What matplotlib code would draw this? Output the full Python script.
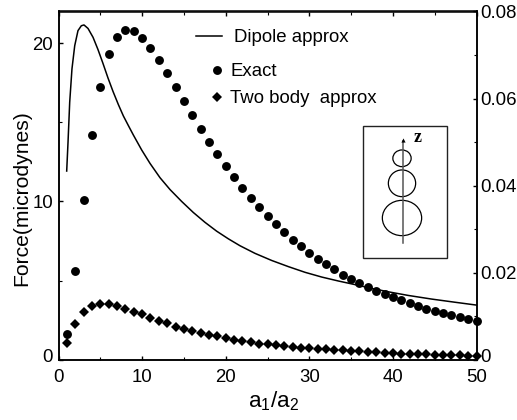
import matplotlib
matplotlib.use('Agg')
import matplotlib.pyplot as plt
from matplotlib.lines import Line2D
from matplotlib.patches import Ellipse, Rectangle
from matplotlib.transforms import Affine2D, ScaledTranslation
import numpy as np

plt.rcParams['font.family'] = ['Liberation Sans', 'DejaVu Sans']
plt.rcParams['mathtext.fontset'] = 'custom'
plt.rcParams['mathtext.rm'] = 'Liberation Sans'
plt.rcParams['mathtext.default'] = 'regular'

dipole_x = [0.98, 1.14, 1.34, 1.61, 1.94, 2.33, 2.73, 3.05, 3.53, 4.13, 4.72, 5.32, 5.92, 6.52,
            7.16, 7.76, 8.35, 8.95, 9.95, 10.95, 12.14, 13.34, 14.73, 16.13, 17.52, 18.92, 20.31,
            21.71, 23.5, 25.5, 27.5, 29.5, 31.5, 33.5, 35.5, 37.5, 39.45, 41.84, 44.64, 47.43, 50]
dipole_y = [11.92, 13.75, 16.27, 18.37, 19.84, 20.79, 21.1, 21.15, 20.93, 20.37, 19.6, 18.72, 17.8, 16.95,
            16.12, 15.4, 14.8, 14.2, 13.25, 12.4, 11.5, 10.75, 10.0, 9.3, 8.68, 8.12, 7.64,
            7.2, 6.72, 6.27, 5.88, 5.52, 5.22, 4.97, 4.74, 4.5, 4.29, 4.06, 3.83, 3.63, 3.45]

ratio = list(range(1, 51))
exact = [1.62, 5.6, 10.1, 14.17, 17.26, 19.32, 20.4, 20.83, 20.74, 20.35,
         19.7, 18.94, 18.1, 17.2, 16.33, 15.45, 14.59, 13.77, 12.97, 12.23,
         11.52, 10.85, 10.21, 9.65, 9.06, 8.56, 8.05, 7.59, 7.17, 6.77,
         6.39, 6.03, 5.72, 5.38, 5.09, 4.84, 4.6, 4.37, 4.14, 3.95,
         3.76, 3.57, 3.39, 3.22, 3.07, 2.92, 2.8, 2.67, 2.57, 2.44]
# two body is read against the right hand axis
two_body = [0.0038, 0.0083, 0.0109, 0.0124, 0.0128, 0.0127, 0.0124, 0.0117, 0.0110, 0.0104,
            0.0096, 0.0089, 0.0084, 0.0076, 0.0071, 0.0065, 0.0061, 0.0056, 0.0054, 0.0049,
            0.0045, 0.0043, 0.0041, 0.0037, 0.0035, 0.0034, 0.0031, 0.0029, 0.0028, 0.0027,
            0.0025, 0.0024, 0.0022, 0.0022, 0.0020, 0.0019, 0.0018, 0.0017, 0.0016, 0.0015,
            0.0014, 0.0013, 0.0012, 0.0012, 0.0011, 0.0011, 0.0011, 0.0010, 0.0009, 0.0009]

x_ticks = [0, 10, 20, 30, 40, 50]
left_ticks = [0, 10, 20]
right_ticks = [0, 0.02, 0.04, 0.06, 0.08]
right_labels = ['0', '0.02', '0.04', '0.06', '0.08']

W, H = 517, 420
fig = plt.figure(figsize=(W / 100, H / 100), dpi=100)
ax = fig.add_axes([58.5 / W, 1 - 359.7 / H, 418 / W, 348.2 / H])
ax2 = ax.twinx()

# image pixel coordinates, y going down, for the hand placed legend and inset
pix = Affine2D().scale(1 / W, -1 / H).translate(0, 1) + fig.transFigure

FS = 13.4
ax.plot(dipole_x, dipole_y, color='black', lw=1.1, zorder=3)
ax.plot(ratio, exact, 'o', color='black', ms=6.4, mew=0, clip_on=False, zorder=4)
ax2.plot(ratio, two_body, 'D', color='black', ms=5.0, mew=0, clip_on=False, zorder=4)

ax.set_xlim(0, 50)
ax.set_ylim(0, 22)
ax2.set_ylim(0, 0.08)

ax.set_xticks(x_ticks)
ax.set_xticks(np.arange(5, 50, 10), minor=True)
ax.set_yticks(left_ticks)
ax.set_yticks([5, 15], minor=True)
ax2.set_yticks(right_ticks)
ax2.set_yticklabels(right_labels)
ax2.set_yticks([0.01, 0.03, 0.05, 0.07], minor=True)

ax.tick_params(axis='x', which='both', direction='in', top=True, labelsize=FS, pad=6.5)
ax.tick_params(axis='y', which='both', direction='in', labelsize=FS, pad=4)
ax2.tick_params(axis='y', which='both', direction='in', labelsize=FS, pad=3)
for a in (ax, ax2):
    a.tick_params(which='major', length=3.2, width=1)
    a.tick_params(which='minor', length=2, width=0.8)
    for s in a.spines.values():
        s.set_linewidth(1.1)

# the zeros sit a little above the axis in the original
up = ScaledTranslation(0, 4 / 100, fig.dpi_scale_trans)
for lab in (ax.get_yticklabels()[0], ax2.get_yticklabels()[0]):
    lab.set_transform(lab.get_transform() + up)

fig.text(273 / W, 1 - 401 / H, '$a_1/a_2$', fontsize=16.2, ha='center', va='center')
fig.text(22 / W, 1 - 198 / H, 'Force(microdynes)', fontsize=15.2, rotation=90, ha='center', va='center')

# legend
fig.add_artist(Line2D([196, 222], [35.7, 35.7], color='black', lw=1.1, transform=pix))
fig.add_artist(Line2D([217.3], [70], marker='o', ms=6.4, mew=0, color='black', transform=pix))
fig.add_artist(Line2D([217.3], [96.7], marker='D', ms=5.0, mew=0, color='black', transform=pix))
fig.text(234 / W, 1 - 42 / H, 'Dipole approx', fontsize=FS, va='baseline')
fig.text(230 / W, 1 - 76 / H, 'Exact', fontsize=FS, va='baseline')
fig.text(230 / W, 1 - 103 / H, 'Two body  approx', fontsize=FS, va='baseline')

# inset sketch of the three spheres
fig.add_artist(Rectangle((363.3, 125.7), 83.7, 132.6, fill=False, ec='#222222', lw=1.0, transform=pix))
for cy, w, h in [(158.3, 18.3, 16.7), (183.3, 27.3, 26.7), (218, 39.3, 35.3)]:
    fig.add_artist(Ellipse((402, cy), w, h, fill=False, ec='black', lw=0.9, transform=pix))
fig.add_artist(Line2D([402.5, 402.5], [243, 141], color='#555555', lw=1.1, transform=pix))
fig.add_artist(Line2D([402.5], [140], marker='^', ms=3, mew=0, color='black', transform=pix))
fig.text(418 / W, 1 - 138 / H, 'z', fontsize=13, family='Liberation Serif', weight='bold', ha='center', va='center')

fig.savefig('out.png', dpi=100)
